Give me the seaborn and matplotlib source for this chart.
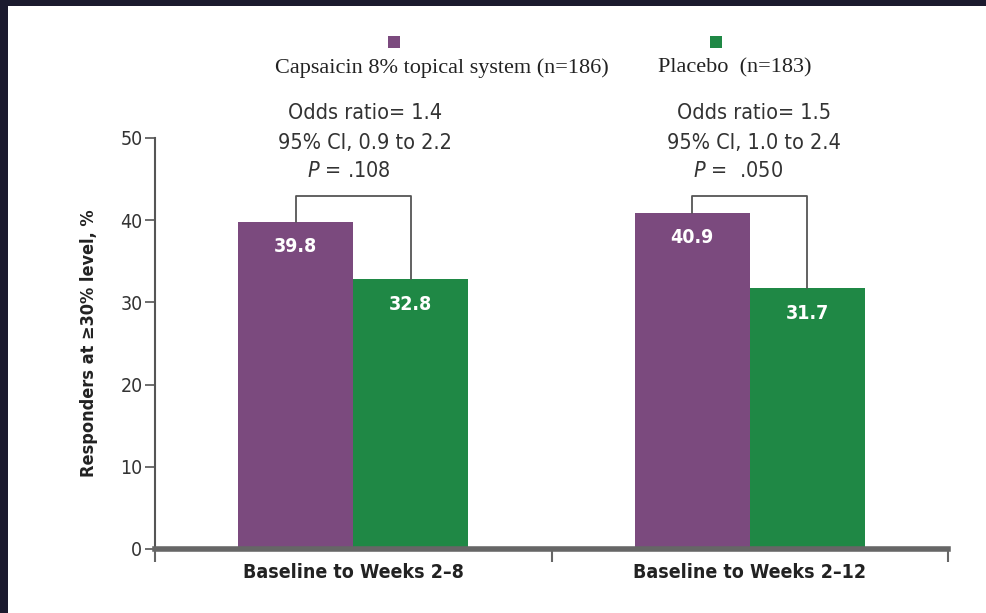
import numpy as np
import pandas as pd
import seaborn as sns
import matplotlib.pyplot as plt
from matplotlib.patches import Rectangle

periods = ['Baseline to Weeks 2–8', 'Baseline to Weeks 2–12']
groups = ['Capsaicin 8% topical system (n=186)', 'Placebo  (n=183)']
capsaicin = [39.8, 40.9]
placebo = [32.8, 31.7]
odds = ['1.4', '1.5']
ci = ['0.9 to 2.2', '1.0 to 2.4']
pvals = ['.108', ' .050']
bracket_top = 43

colors = ['#7b4a7e', '#1f8845']

df = pd.DataFrame({
    'period': periods * 2,
    'group': [groups[0]] * 2 + [groups[1]] * 2,
    'value': capsaicin + placebo,
})

sns.set_style('white')
plt.rcParams['font.family'] = ['DejaVu Sans']
plt.rcParams['font.stretch'] = 'condensed'

fig = plt.figure(figsize=(9.87, 6.13), dpi=100, facecolor='#1b1a2e')
fig.add_artist(Rectangle((8 / 987, 0), 1, 1 - 6 / 613, transform=fig.transFigure,
                         facecolor='white', edgecolor='none', zorder=-10))
ax = fig.add_axes([155 / 987, 1 - 549 / 613, (948 - 155) / 987, (549 - 138) / 613])
ax.set_facecolor('none')

sns.barplot(data=df, x='period', y='value', hue='group', palette=colors,
            width=0.58, saturation=1, linewidth=0, ax=ax, legend=False)

ax.set_ylim(0, 50)
ax.set_xlim(-0.5, 1.5)
ax.set_yticks([0, 10, 20, 30, 40, 50])
ax.set_xticks([-0.5, 0.5, 1.5], minor=False)
ax.set_xticklabels([])
ax.set_xticks([0, 1], minor=True)
ax.set_xticklabels(periods, minor=True, fontsize=14, fontweight='bold', color='#222222')
ax.tick_params(axis='x', which='minor', bottom=False, length=0, pad=10)
ax.tick_params(axis='x', which='major', bottom=True, length=9, width=1.5,
               color='#666666', direction='out')
ax.tick_params(axis='y', left=True, length=7, width=1.2, color='#555555', direction='out',
               labelsize=14, labelcolor='#333333', pad=2)
ax.set_xlabel('')
ax.set_ylabel('Responders at ≥30% level, %', fontsize=13, fontweight='bold',
              color='#222222', labelpad=16)

sns.despine(ax=ax)
ax.spines['left'].set_color('#555555')
ax.spines['left'].set_linewidth(1.5)
ax.spines['bottom'].set_color('#666666')
ax.spines['bottom'].set_linewidth(4)

# bar value labels + brackets
bars = [p for p in ax.patches if p.get_height() > 0]
bars_c = sorted(bars[:2], key=lambda p: p.get_x())
bars_p = sorted(bars[2:], key=lambda p: p.get_x())
for i in range(2):
    for b in (bars_c[i], bars_p[i]):
        cx = b.get_x() + b.get_width() / 2
        ax.text(cx, b.get_height() - 3.0, f'{b.get_height():.1f}', ha='center', va='center',
                color='white', fontsize=14, fontweight='bold')
    x1 = bars_c[i].get_x() + bars_c[i].get_width() / 2
    x2 = bars_p[i].get_x() + bars_p[i].get_width() / 2
    ax.plot([x1, x1, x2, x2], [bars_c[i].get_height(), bracket_top, bracket_top,
                               bars_p[i].get_height()],
            color='#555555', lw=1.3, clip_on=False)
    xc = i + (0.03 if i == 0 else 0.01)
    ax.text(xc, 53.0, f'Odds ratio= {odds[i]}', ha='center', va='center',
            fontsize=15.5, color='#333333', clip_on=False)
    ax.text(xc, 49.4, f'95% CI, {ci[i]}', ha='center', va='center',
            fontsize=15.5, color='#333333', clip_on=False)
    ax.text(xc - 0.04, 46.0, f'$\\it{{P}}$ = {pvals[i]}', ha='center', va='center',
            fontsize=15.5, color='#333333', clip_on=False)

# legend: square above each label
square_x = [394 / 987, 716 / 987]
text_x = [442 / 987, 735 / 987]
for sx, tx, name, col in zip(square_x, text_x, groups, colors):
    w, h = 12 / 987, 12 / 613
    fig.add_artist(Rectangle((sx - w / 2, 1 - 48 / 613), w, h, transform=fig.transFigure,
                             facecolor=col, edgecolor='none'))
    fig.text(tx, 1 - 68 / 613, name, ha='center', va='center', fontsize=16,
             family=['Liberation Serif', 'DejaVu Serif'], stretch='normal', color='#222222')

fig.savefig('out.png', dpi=100, facecolor=fig.get_facecolor())
